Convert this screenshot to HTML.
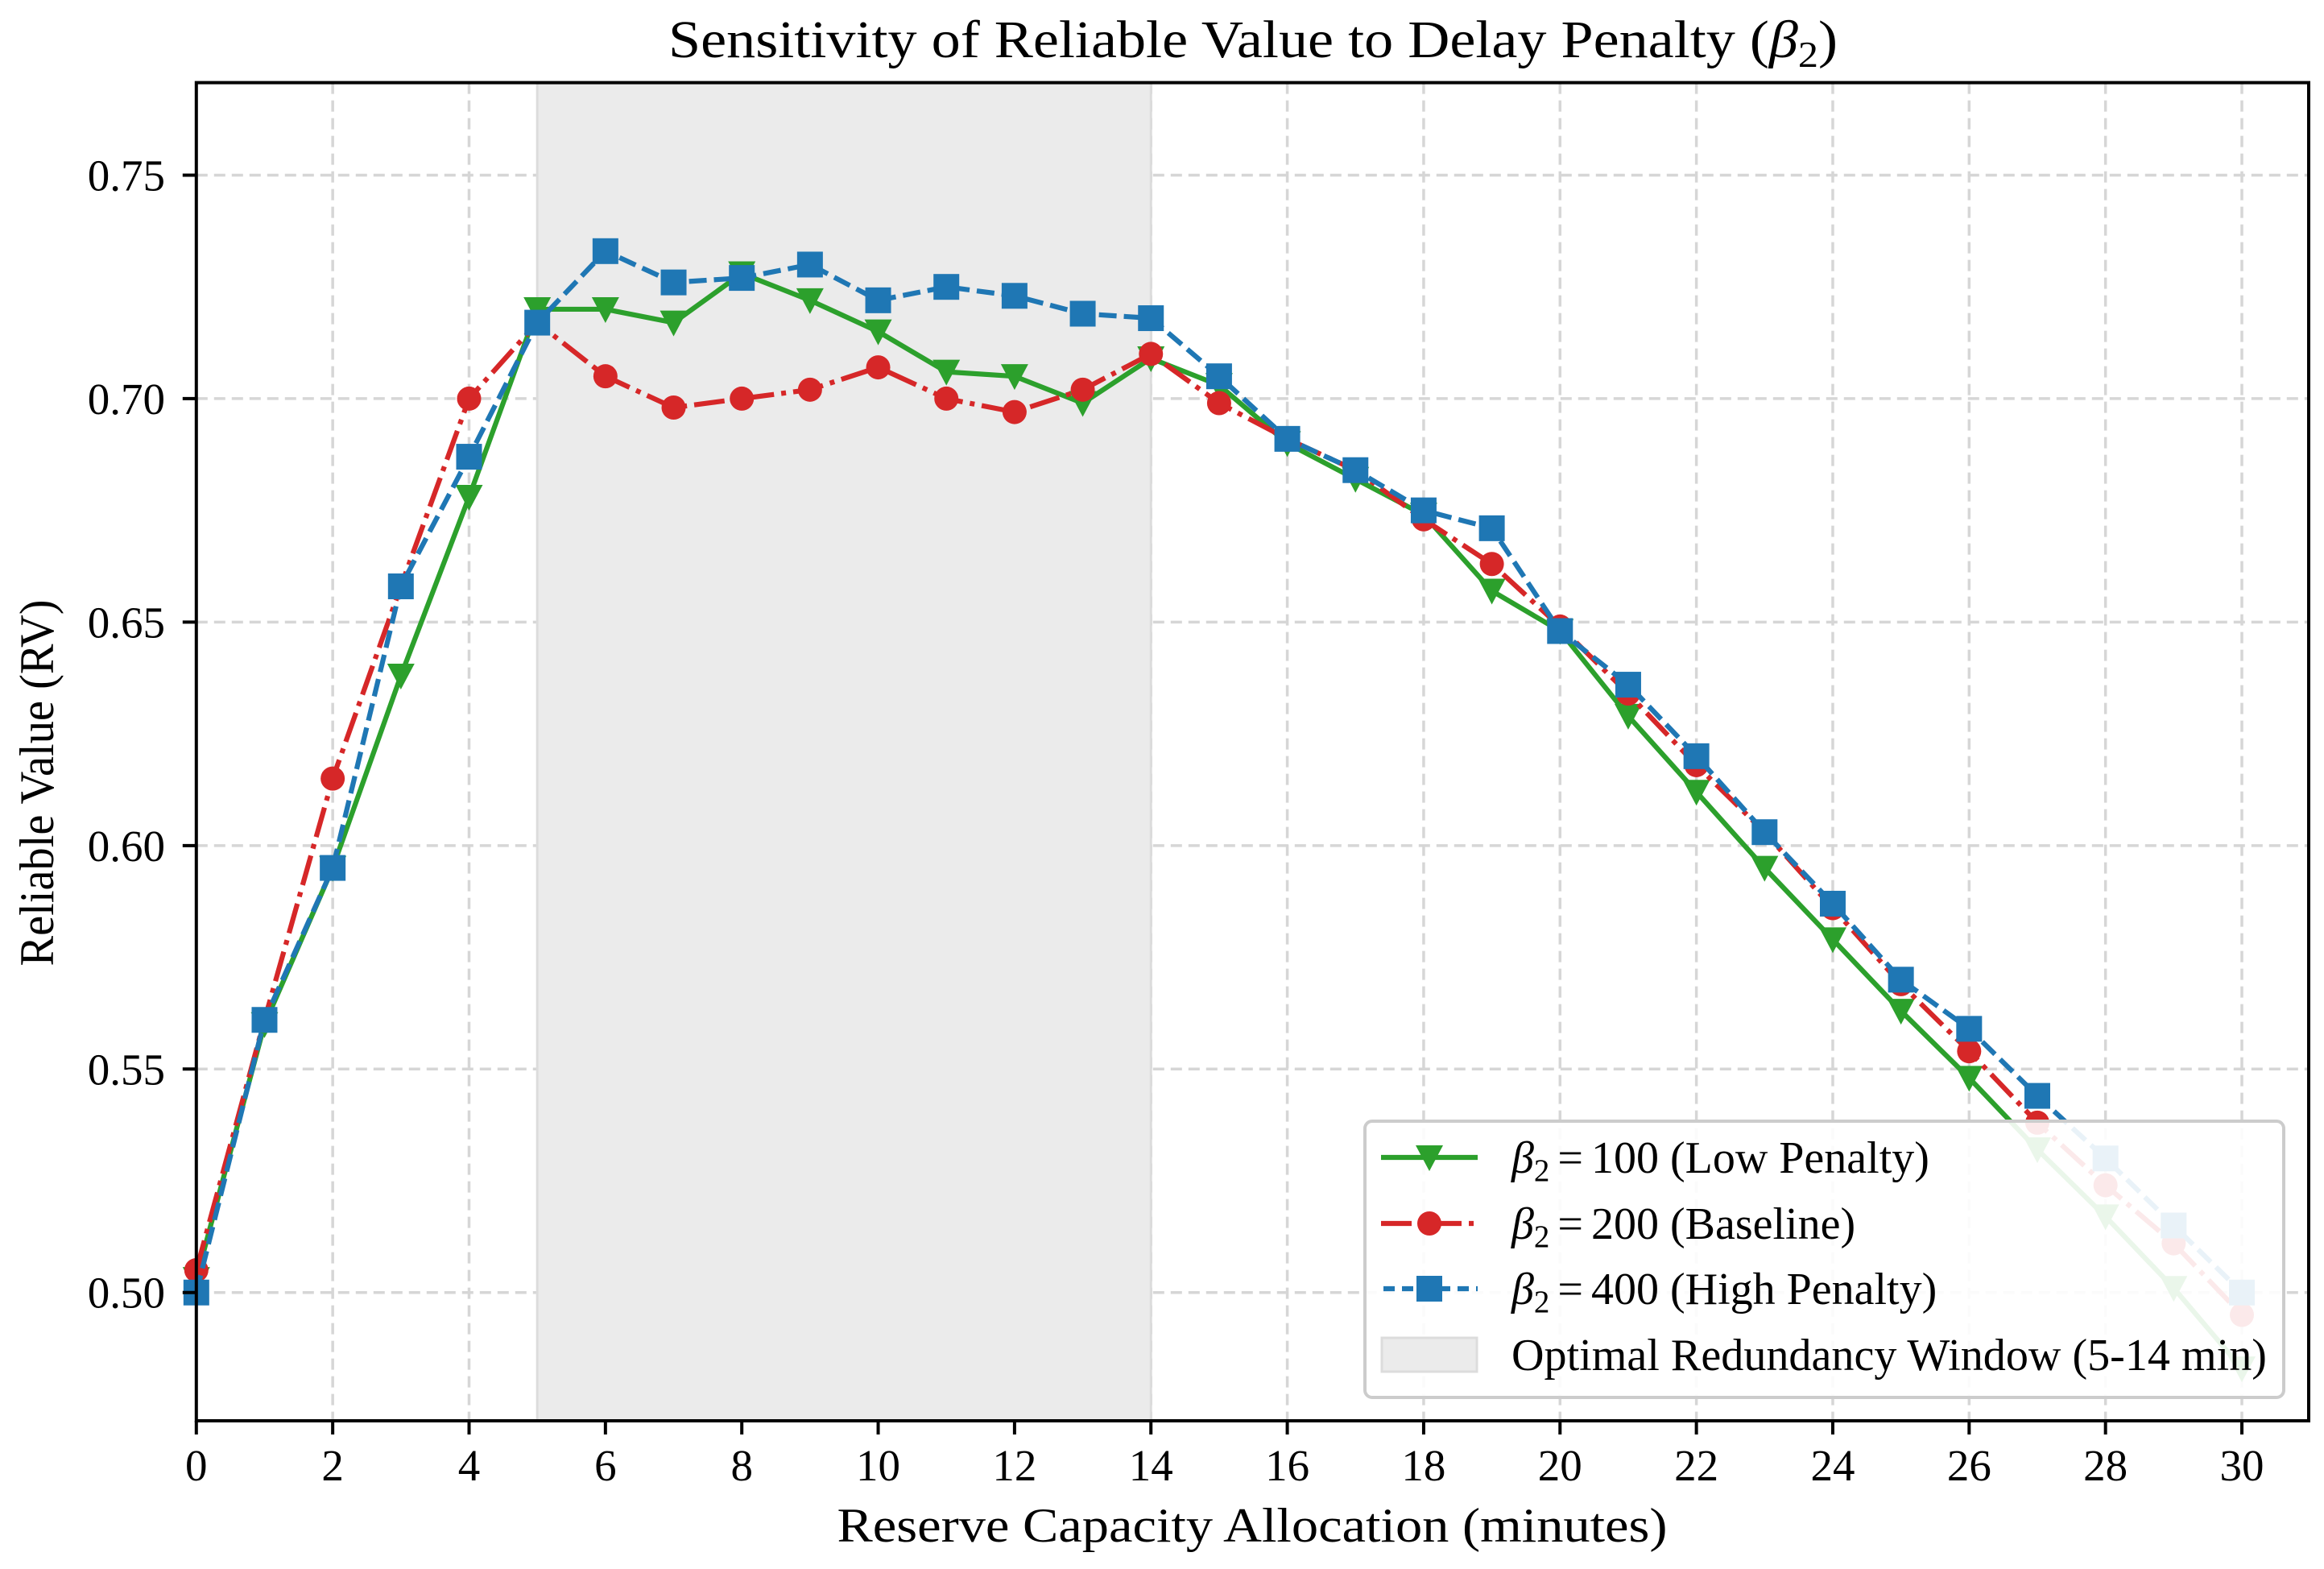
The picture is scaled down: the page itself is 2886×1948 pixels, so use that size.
<!DOCTYPE html>
<html><head><meta charset="utf-8"><title>Sensitivity of Reliable Value to Delay Penalty</title>
<style>html,body{margin:0;padding:0;background:#fff}svg{display:block}text{font-family:"Liberation Serif",serif;fill:#000}</style>
</head><body>
<svg id="chart" xmlns="http://www.w3.org/2000/svg" width="2886" height="1948" viewBox="0 0 2886 1948">
<rect width="2886" height="1948" fill="#fff"/>
<g id="grid"></g>
<g id="span"></g>
<g id="series"></g>
<g id="axes"></g>
<g id="legend"></g>
<text x="1556" y="71" font-size="66" text-anchor="middle" textLength="1452" lengthAdjust="spacingAndGlyphs">Sensitivity of Reliable Value to Delay Penalty (<tspan font-style="italic">β</tspan><tspan font-size="46" dy="12">2</tspan><tspan dy="-12">)</tspan></text>
<text x="1555" y="1914" font-size="60" text-anchor="middle" textLength="1031" lengthAdjust="spacingAndGlyphs">Reserve Capacity Allocation (minutes)</text>
<text x="0" y="0" font-size="60" text-anchor="middle" transform="translate(66,972) rotate(-90)" textLength="455" lengthAdjust="spacingAndGlyphs">Reliable Value (RV)</text>
</svg>
<script>
const xValues = [0,1,2,3,4,5,6,7,8,9,10,11,12,13,14,15,16,17,18,19,20,21,22,23,24,25,26,27,28,29,30];
const lowPenalty = [0.503,0.560,0.595,0.638,0.678,0.720,0.720,0.717,0.728,0.722,0.715,0.706,0.705,0.699,0.709,0.703,0.690,0.682,0.674,0.657,0.648,0.629,0.612,0.595,0.579,0.563,0.548,0.532,0.517,0.501,0.483];
const baseline = [0.505,0.561,0.615,0.658,0.700,0.717,0.705,0.698,0.700,0.702,0.707,0.700,0.697,0.702,0.710,0.699,0.691,0.684,0.673,0.663,0.649,0.634,0.618,0.603,0.586,0.569,0.554,0.538,0.524,0.511,0.495];
const highPenalty = [0.500,0.561,0.595,0.658,0.687,0.717,0.733,0.726,0.727,0.730,0.722,0.725,0.723,0.719,0.718,0.705,0.691,0.684,0.675,0.671,0.648,0.636,0.620,0.603,0.587,0.570,0.559,0.544,0.530,0.515,0.500];
const xTicks = [0,2,4,6,8,10,12,14,16,18,20,22,24,26,28,30];
const yTicks = [0.50,0.55,0.60,0.65,0.70,0.75];
const windowRange = [5,14];
const legendLabels = ["100 (Low Penalty)","200 (Baseline)","400 (High Penalty)","Optimal Redundancy Window (5-14 min)"];

const NS="http://www.w3.org/2000/svg";
const L=243.8,R=2867,T=102.6,B=1764;
const X0=0,X1=30.98,Y0=0.4713,Y1=0.7707;
function sx(v){return L+(v-X0)/(X1-X0)*(R-L);}
function sy(v){return B-(v-Y0)/(Y1-Y0)*(B-T);}
function mk(tag,attrs,parent){const e=document.createElementNS(NS,tag);for(const k in attrs)e.setAttribute(k,attrs[k]);parent.appendChild(e);return e;}
const grid=document.getElementById('grid'),span=document.getElementById('span'),series=document.getElementById('series'),axes=document.getElementById('axes'),legend=document.getElementById('legend');

let r=mk('rect',{x:sx(windowRange[0]),y:T,width:sx(windowRange[1])-sx(windowRange[0]),height:B-T,fill:'#ebebeb',stroke:'#dcdcdc','stroke-width':3},span);



xTicks.forEach(t=>{const l=mk('line',{x1:sx(t),x2:sx(t),y1:T,y2:B,stroke:'#d6d6d6','stroke-width':3.5,'stroke-dasharray':'14 8'},grid);

});
yTicks.forEach(t=>{const l=mk('line',{x1:L,x2:R,y1:sy(t),y2:sy(t),stroke:'#d6d6d6','stroke-width':3.5,'stroke-dasharray':'14 8'},grid);

});

const defs=[
 {data:lowPenalty,color:'#2ca02c',dash:'none',marker:'tri',name:'low-penalty'},
 {data:baseline,color:'#d62728',dash:'38 9 6 9',marker:'circle',name:'baseline'},
 {data:highPenalty,color:'#1f77b4',dash:'22 9',marker:'square',name:'high-penalty'}
];
function marker(type,x,y,color,parent){
 let e;
 if(type==='tri'){e=mk('polygon',{points:`${x-17},${y-15} ${x+17},${y-15} ${x},${y+17}`,fill:color},parent);}
 else if(type==='circle'){e=mk('circle',{cx:x,cy:y,r:15,fill:color},parent);}
 else {e=mk('rect',{x:x-16,y:y-16,width:32,height:32,fill:color},parent);}
 return e;
}
defs.forEach(d=>{
 const g=mk('g',{},series);
 
 
 const pts=xValues.map((x,i)=>sx(x)+','+sy(d.data[i])).join(' ');
 const pl=mk('polyline',{points:pts,fill:'none',stroke:d.color,'stroke-width':6.2,'stroke-dasharray':d.dash,'stroke-linejoin':'round'},g);
 
 
 xValues.forEach((x,i)=>{const m=marker(d.marker,sx(x),sy(d.data[i]),d.color,g);
 
 });
});

const frame=mk('rect',{x:L,y:T,width:R-L,height:B-T,fill:'none',stroke:'#000','stroke-width':4},axes);


xTicks.forEach(t=>{const l=mk('line',{x1:sx(t),x2:sx(t),y1:B,y2:B+17,stroke:'#000','stroke-width':4},axes);


const tx=mk('text',{x:sx(t),y:1838,'font-size':55,'text-anchor':'middle'},axes);tx.textContent=t;

});
yTicks.forEach(t=>{const l=mk('line',{x1:L-17,x2:L,y1:sy(t),y2:sy(t),stroke:'#000','stroke-width':4},axes);


const tx=mk('text',{x:205,y:sy(t)+19,'font-size':55,'text-anchor':'end'},axes);tx.textContent=t.toFixed(2);

});

const box=mk('rect',{x:1695,y:1392,width:1141,height:343,rx:9,fill:'rgba(255,255,255,0.9)',stroke:'#cccccc','stroke-width':4},legend);


const rows=[1437,1519,1600,1682];
defs.forEach((d,i)=>{
 const g=mk('g',{},legend);
 
 
 const l=mk('line',{x1:1715,x2:1835,y1:rows[i],y2:rows[i],stroke:d.color,'stroke-width':6.2,'stroke-dasharray':d.marker==='circle'?'38 9 6 9':(d.marker==='square'?'14 9':'none'),'stroke-dashoffset':d.marker==='square'?'-3':'0'},g);
 
 
 const m=marker(d.marker,1775,rows[i],d.color,g);
 
 
 const t=mk('text',{x:1877,y:rows[i]+19,'font-size':56},g);
 t.innerHTML='<tspan font-style="italic">β</tspan><tspan font-size="39" dy="10">2</tspan><tspan dy="-10" dx="10">=</tspan><tspan dx="10">'+legendLabels[i]+'</tspan>';
 
 
});
const pg=mk('g',{},legend);


const patch=mk('rect',{x:1716,y:1661,width:118,height:42,fill:'#ebebeb',stroke:'#dcdcdc','stroke-width':3},pg);


const pt=mk('text',{x:1877,y:1701,'font-size':56,textLength:938,lengthAdjust:'spacingAndGlyphs'},pg);pt.textContent=legendLabels[3];


</script>
</body></html>
